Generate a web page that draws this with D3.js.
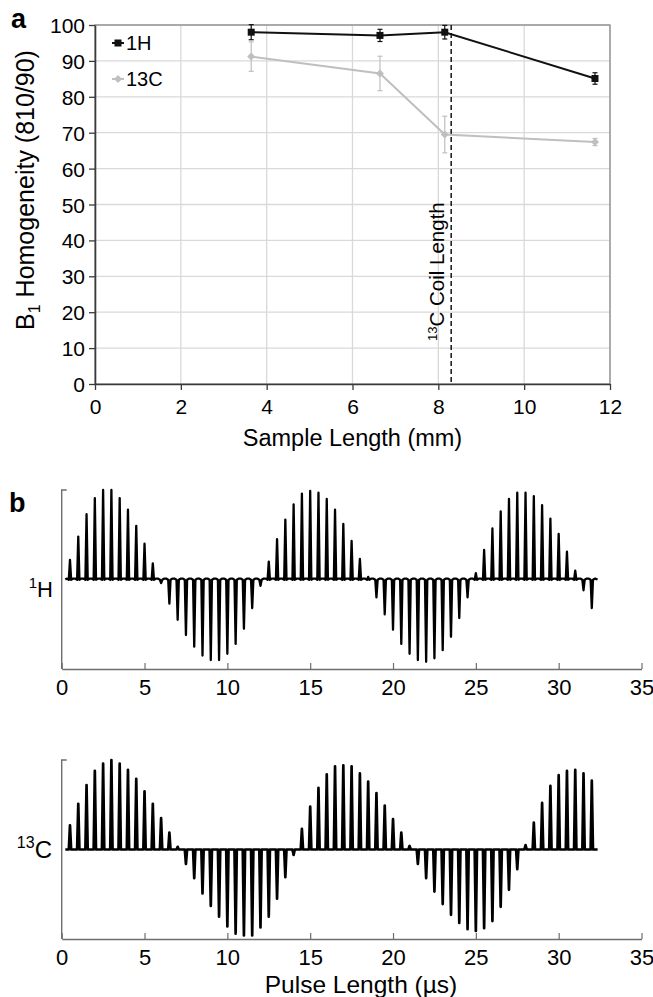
<!DOCTYPE html>
<html><head><meta charset="utf-8">
<script src="https://cdn.jsdelivr.net/npm/d3@7"></script>
<style>
body{margin:0;background:#fff}
svg{display:block}
text{font-family:"Liberation Sans",Arial,Helvetica,sans-serif;fill:#000}
</style>
</head><body>
<svg id="c" width="653" height="997"></svg>
<script>
// ---------- Panel a data ----------
const sampleLength = [3.64, 6.64, 8.15, 11.65];
const h1Homog = [98.0, 97.1, 98.0, 85.1];
const h1Err = [2.1, 1.7, 1.9, 1.6];
const c13Homog = [91.2, 86.5, 69.5, 67.4];
const c13Err = [4.1, 4.8, 5.1, 1.0];
const coilLength = 8.3;
const aXTicks = [0, 2, 4, 6, 8, 10, 12];
const aYTicks = [0, 10, 20, 30, 40, 50, 60, 70, 80, 90, 100];
const seriesNames = ["1H", "13C"];

// ---------- Panel b data ----------
const pulseLength = [0.5,1.0,1.5,2.0,2.5,3.0,3.5,4.0,4.5,5.0,5.5,6.0,6.5,7.0,7.5,8.0,
  8.5,9.0,9.5,10.0,10.5,11.0,11.5,12.0,12.5,13.0,13.5,14.0,14.5,15.0,15.5,16.0,
  16.5,17.0,17.5,18.0,18.5,19.0,19.5,20.0,20.5,21.0,21.5,22.0,22.5,23.0,23.5,24.0,
  24.5,25.0,25.5,26.0,26.5,27.0,27.5,28.0,28.5,29.0,29.5,30.0,30.5,31.0,31.5,32.0];
const h1Amp = [0.22,0.48,0.73,0.91,1.00,1.00,0.91,0.78,0.60,0.40,0.18,-0.04,-0.27,-0.45,-0.62,-0.75,
  -0.85,-0.90,-0.90,-0.83,-0.72,-0.55,-0.32,-0.07,0.20,0.45,0.67,0.84,0.96,0.99,0.97,0.90,
  0.78,0.62,0.43,0.23,0.03,-0.20,-0.39,-0.56,-0.72,-0.83,-0.90,-0.92,-0.88,-0.79,-0.64,-0.43,
  -0.20,0.07,0.33,0.57,0.76,0.90,0.97,0.97,0.93,0.83,0.68,0.51,0.31,0.10,-0.12,-0.32];
const c13Amp = [0.27,0.51,0.72,0.88,0.96,1.00,0.96,0.89,0.79,0.65,0.51,0.35,0.19,0.03,-0.16,-0.32,
  -0.49,-0.63,-0.75,-0.86,-0.94,-0.96,-0.96,-0.87,-0.75,-0.55,-0.31,-0.06,0.23,0.48,0.69,0.84,
  0.93,0.94,0.93,0.85,0.76,0.63,0.49,0.34,0.19,0.04,-0.16,-0.32,-0.47,-0.61,-0.73,-0.82,
  -0.89,-0.91,-0.88,-0.80,-0.64,-0.45,-0.22,0.05,0.30,0.52,0.71,0.83,0.88,0.89,0.85,0.77];
const bXTicks = [0, 5, 10, 15, 20, 25, 30, 35];

const svg = d3.select("#c");

// ================= PANEL A =================
const ax = d3.scaleLinear().domain([0, 12]).range([95, 610]);
const ay = d3.scaleLinear().domain([0, 100]).range([384, 25]);
const ga = svg.append("g");

ga.append("g").selectAll("line").data(aYTicks.slice(1)).join("line")
  .attr("x1", ax(0)).attr("x2", ax(12)).attr("y1", d => ay(d)).attr("y2", d => ay(d))
  .attr("stroke", "#d9d9d9").attr("stroke-width", 1.3);
ga.append("g").selectAll("line").data(aXTicks.slice(1)).join("line")
  .attr("x1", d => ax(d)).attr("x2", d => ax(d)).attr("y1", ay(0)).attr("y2", ay(100))
  .attr("stroke", "#d9d9d9").attr("stroke-width", 1.3);
ga.append("rect").attr("x", ax(0)).attr("y", ay(100)).attr("width", ax(12) - ax(0)).attr("height", ay(0) - ay(100))
  .attr("fill", "none").attr("stroke", "#8c8c8c").attr("stroke-width", 1.3);

const axB = ga.append("g").attr("transform", `translate(0,${ay(0)})`)
  .call(d3.axisBottom(ax).tickValues(aXTicks).tickSize(6).tickSizeOuter(0).tickPadding(4));
const axL = ga.append("g").attr("transform", `translate(${ax(0)},0)`)
  .call(d3.axisLeft(ay).tickValues(aYTicks).tickSize(6).tickSizeOuter(0).tickPadding(4));
[axB, axL].forEach(g => {
  g.select(".domain").attr("stroke", "#3a3a3a").attr("stroke-width", 1.6);
  g.selectAll(".tick line").attr("stroke", "#3a3a3a").attr("stroke-width", 1.3);
  g.selectAll(".tick text").attr("font-size", 21).attr("font-family", null).style("fill", "#000");
});
axB.selectAll(".tick text").attr("dy", "0.95em");
axL.selectAll(".tick text").attr("dy", "0.36em");

ga.append("line").attr("x1", ax(coilLength)).attr("x2", ax(coilLength)).attr("y1", ay(100)).attr("y2", ay(0))
  .attr("stroke", "#222").attr("stroke-width", 1.6).attr("stroke-dasharray", "5,3");
const coilT = ga.append("text").attr("transform", `translate(${ax(coilLength) - 7},${ay(12)}) rotate(-90)`)
  .attr("font-size", 20.5);
coilT.append("tspan").attr("font-size", 13).attr("dy", -7).text("13");
coilT.append("tspan").attr("dy", 7).text("C Coil Length");

const line = d3.line().x(d => ax(d[0])).y(d => ay(d[1]));
const c13Pts = sampleLength.map((x, i) => [x, c13Homog[i], c13Err[i]]);
const h1Pts = sampleLength.map((x, i) => [x, h1Homog[i], h1Err[i]]);

function drawSeries(pts, color, width, marker) {
  const g = ga.append("g");
  g.selectAll("line.err").data(pts).join("line").attr("class", "err")
    .attr("x1", d => ax(d[0])).attr("x2", d => ax(d[0]))
    .attr("y1", d => ay(d[1] - d[2])).attr("y2", d => ay(d[1] + d[2]))
    .attr("stroke", color).attr("stroke-width", 1.2);
  g.selectAll("line.cap").data(pts.flatMap(d => [d[1] - d[2], d[1] + d[2]].map(v => [d[0], v]))).join("line").attr("class", "cap")
    .attr("x1", d => ax(d[0]) - 2.5).attr("x2", d => ax(d[0]) + 2.5)
    .attr("y1", d => ay(d[1])).attr("y2", d => ay(d[1]))
    .attr("stroke", color).attr("stroke-width", 1.2);
  g.append("path").datum(pts).attr("d", line).attr("fill", "none").attr("stroke", color).attr("stroke-width", width);
  g.selectAll("path.m").data(pts).join("path").attr("class", "m")
    .attr("transform", d => `translate(${ax(d[0])},${ay(d[1])})`)
    .attr("d", marker).attr("fill", color);
}
const sq = "M-3.5,-3.5H3.5V3.5H-3.5Z";
const dia = "M0,-4L4,0L0,4L-4,0Z";
drawSeries(c13Pts, "#bfbfbf", 2, dia);
drawSeries(h1Pts, "#111", 2, sq);

const lg = ga.append("g");
[[seriesNames[0], "#111", sq, 43], [seriesNames[1], "#bfbfbf", dia, 79]].forEach(([name, col, m, y]) => {
  lg.append("line").attr("x1", 112).attr("x2", 124).attr("y1", y).attr("y2", y).attr("stroke", col).attr("stroke-width", 2);
  lg.append("path").attr("d", m).attr("transform", `translate(118,${y})`).attr("fill", col);
  lg.append("text").attr("x", 126).attr("y", y).attr("dy", "0.36em").attr("font-size", 20).text(name);
});

svg.append("text").attr("x", 11).attr("y", 28).attr("font-size", 27).attr("font-weight", "bold").text("a");
svg.append("text").attr("x", (ax(0) + ax(12)) / 2).attr("y", 446).attr("text-anchor", "middle").attr("font-size", 23.5)
  .text("Sample Length (mm)");
const yt = svg.append("text").attr("transform", `translate(34,190) rotate(-90)`)
  .attr("text-anchor", "middle").attr("font-size", 25);
yt.append("tspan").text("B");
yt.append("tspan").attr("font-size", 16).attr("dy", 6).text("1");
yt.append("tspan").attr("dy", -6).text(" Homogeneity (810/90)");

// ================= PANEL B =================
const bx = d3.scaleLinear().domain([0, 35]).range([61.7, 641.5]);

function spectrum(amp, top, bottom, ripple, sw) {
  const by = d3.scaleLinear().domain([-1, 1]).range([bottom, top]);
  const g = svg.append("g");
  const axg = g.append("g").attr("transform", `translate(0,${bottom})`)
    .call(d3.axisBottom(bx).tickValues(bXTicks).tickSize(-6).tickSizeOuter(0).tickPadding(10));
  axg.select(".domain").attr("stroke", "#6e6e6e").attr("stroke-width", 1.4);
  axg.selectAll(".tick line").attr("stroke", "#6e6e6e").attr("stroke-width", 1.2);
  axg.selectAll(".tick text").attr("font-size", 22).attr("font-family", null).style("fill", "#000").attr("dy", "0.71em");
  g.append("path").attr("d", `M${bx(0) + 5},${by(1)}H${bx(0)}V${bottom}`)
    .attr("fill", "none").attr("stroke", "#6e6e6e").attr("stroke-width", 1.4);
  const pts = [[0.22, 0]];
  pulseLength.forEach((t, i) => {
    const a = amp[i];
    pts.push([t - 0.2, ripple], [t - 0.07, -ripple * 0.4], [t, a], [t + 0.07, -ripple * 0.4], [t + 0.2, ripple]);
  });
  pts.push([32.35, 0]);
  const ln = d3.line().x(d => bx(d[0])).y(d => by(d[1]));
  g.append("path").datum(pts).attr("d", ln).attr("fill", "none").attr("stroke", "#000")
    .attr("stroke-width", sw).attr("stroke-linejoin", "round");
  return by;
}
spectrum(h1Amp, 490, 669, 0.01, 2.3);
spectrum(c13Amp, 760, 939, 0.0, 2.7);

const l1 = svg.append("text").attr("x", 53).attr("y", 597).attr("text-anchor", "end").attr("font-size", 22);
l1.append("tspan").attr("font-size", 15).attr("dy", -9).text("1");
l1.append("tspan").attr("dy", 9).text("H");
const l2 = svg.append("text").attr("x", 52).attr("y", 858).attr("text-anchor", "end").attr("font-size", 24);
l2.append("tspan").attr("font-size", 16).attr("dy", -10).text("13");
l2.append("tspan").attr("dy", 10).text("C");

svg.append("text").attr("x", 9).attr("y", 512).attr("font-size", 27).attr("font-weight", "bold").text("b");
svg.append("text").attr("x", 361).attr("y", 993).attr("text-anchor", "middle").attr("font-size", 24.5)
  .text("Pulse Length (\u00b5s)");
</script>
</body></html>
